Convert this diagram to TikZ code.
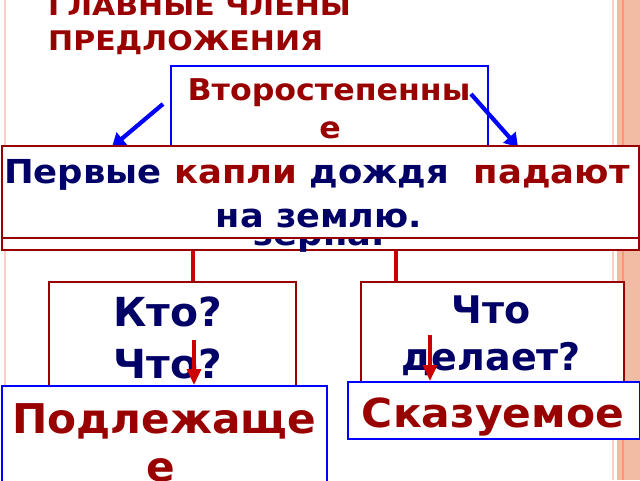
\documentclass[tikz,border=0pt]{standalone}
\usepackage{fontspec}
\setmainfont{DejaVu Sans}
\usetikzlibrary{arrows.meta,calc}
\definecolor{dred}{HTML}{990000}
\definecolor{navy}{HTML}{000066}
\definecolor{bblue}{HTML}{0000FF}
\definecolor{cred}{HTML}{CC0000}
\definecolor{pinkline}{HTML}{FAD2C4}
\definecolor{salmon}{HTML}{F2BBA4}
\definecolor{orangeline}{HTML}{F59A6E}
\newcommand{\fsz}[2]{\bfseries\fontsize{#1}{#1}\selectfont\addfontfeatures{FakeStretch=#2}}
\begin{document}
\begin{tikzpicture}[x=1pt,y=-1pt,
  redbox/.style={draw=dred,line width=1.6pt,fill=white,rectangle,inner sep=0pt,anchor=north west},
  bluebox/.style={draw=bblue,line width=1.8pt,fill=white,rectangle,inner sep=0pt,anchor=north west},
  txt/.style={inner sep=0pt,anchor=base},
  bluearrow/.style={draw=bblue,line width=4.2pt,-{Triangle[length=13pt,width=16pt]}},
  redarrow/.style={draw=cred,line width=3.6pt,-{Triangle[length=16pt,width=14pt]}},
  redline/.style={draw=cred,line width=3.2pt}]
\useasboundingbox (0,0) rectangle (640,480);
% frame decoration
\fill[white] (0,0) rectangle (640,480);
\fill[salmon] (617,0) rectangle (640,480);
\draw[orangeline,line width=1.4pt] (623,0) -- (623,480);
\draw[pinkline,line width=1.2pt] (613,0) -- (613,480);
\draw[pinkline,line width=2pt] (5,0) -- (5,480);
% title
\node[txt,anchor=base west,text=dred,font=\fsz{27}{1.11}] (t1) at (48,15) {ГЛАВНЫЕ ЧЛЕНЫ};
\node[txt,anchor=base west,text=dred,font=\fsz{27}{1.11}] (t2) at (48,50) {ПРЕДЛОЖЕНИЯ};
% secondary box
\node[bluebox,minimum width=317pt,minimum height=90pt] (vt) at (170,65) {};
\node[txt,text=dred,font=\fsz{30}{1.055}] (vt1) at (329,100) {Второстепенны};
\node[txt,text=dred,font=\fsz{30}{1.055}] (vt2) at (330,138) {е};
% blue arrows
\coordinate (la0) at (163,104);
\coordinate (la1) at (112,147);
\coordinate (ra0) at (471,94);
\coordinate (ra1) at (518,147);
\draw[bluearrow] (la0) -- (la1);
\draw[bluearrow] (ra0) -- (ra1);
% hidden back box
\node[redbox,minimum width=637pt,minimum height=99pt] (back) at (1,150) {};
\node[txt,text=navy,font=\fsz{33}{1.07}] (zr) at (319,245) {зерна.};
% front box
\node[redbox,minimum width=637pt,minimum height=92pt] (front) at (1,145) {};
\node[txt,font=\fsz{33}{1.074}] (f1) at (317,183) {\textcolor{navy}{Первые} \textcolor{dred}{капли} \textcolor{navy}{дождя}\ \ \textcolor{dred}{падают}};
\node[txt,text=navy,font=\fsz{33}{1.065}] (f2) at (319,227) {на землю.};
% question boxes
\node[redbox,minimum width=247pt,minimum height=110pt] (kto) at (48,281) {};
\node[redbox,minimum width=263pt,minimum height=110pt] (chto) at (360,281) {};
\draw[redline] (back.south -| 193,0) -- (kto.north -| 193,0);
\draw[redline] (back.south -| 396,0) -- (chto.north -| 396,0);
\node[txt,text=navy,font=\fsz{40}{1.02}] (k1) at (168,326) {Кто?};
\node[txt,text=navy,font=\fsz{40}{1.02}] (k2) at (168,378) {Что?};
\node[txt,text=navy,font=\fsz{38}{1.0}] (c1) at (491,323) {Что};
\node[txt,text=navy,font=\fsz{38}{1.0}] (c2) at (491,370) {делает?};
% answer boxes
\node[bluebox,minimum width=325pt,minimum height=110pt] (podl) at (1,385) {};
\node[bluebox,minimum width=292pt,minimum height=57pt] (skaz) at (347,381) {};
\node[txt,text=dred,font=\fsz{41}{1.03}] (p1) at (164,433) {Подлежаще};
\node[txt,text=dred,font=\fsz{41}{1.03}] (p2) at (161,481) {е};
\node[txt,text=dred,font=\fsz{40}{1.06}] (s1) at (493,427) {Сказуемое};
% red arrows
\coordinate (a1) at (194,340);
\coordinate (a2) at (430,335);
\draw[redarrow] (a1) -- (a1 |- podl.north);
\draw[redarrow] (a2) -- (a2 |- skaz.north);
\end{tikzpicture}
\end{document}
